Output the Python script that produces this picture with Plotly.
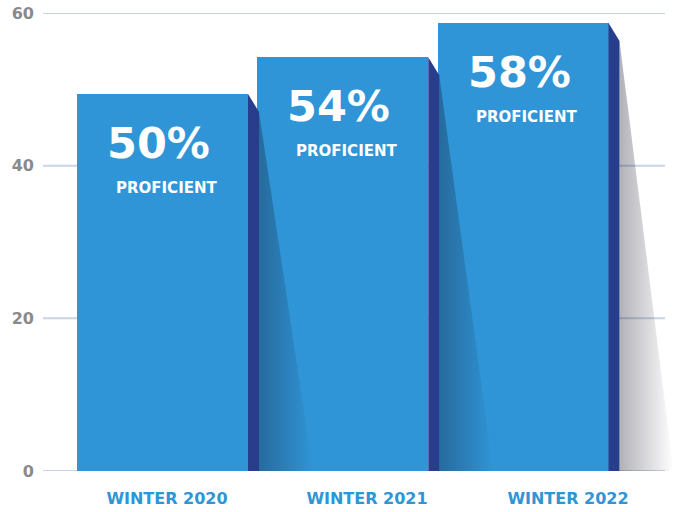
import plotly.graph_objects as go

categories = ["WINTER 2020", "WINTER 2021", "WINTER 2022"]
values = [49.4, 54.2, 58.7]
pct_labels = ["50%", "54%", "58%"]
sub_label = "PROFICIENT"
y_ticks = [0, 20, 40, 60]

# layout constants (pixels)
W, H = 675, 512
ML, MR, MT, MB = 43, 0, 13, 41
GRID_RIGHT_PX = 665
PLOT_W = W - ML - MR
PLOT_H = H - MT - MB
BAR_PX_SPACING = 180.25
BAR_PX_W = 171
FIRST_BAR_CENTER_PX = 162.5 - ML
LABEL_PX = [167, 367, 568]

x_lo = -FIRST_BAR_CENTER_PX / BAR_PX_SPACING
x_hi = x_lo + PLOT_W / BAR_PX_SPACING
y_lo, y_hi = 0, 60
py = PLOT_H / (y_hi - y_lo)  # px per y unit
px = BAR_PX_SPACING          # px per x unit

bar_w = BAR_PX_W / px
side_dx = 11 / px
side_dy = 18 / py
shadow_dx = 54 / px

BLUE = "#2F95D6"
NAVY = "#283E8C"
GRID = "#C7D5E6"
GRAY = "#8A8A8A"

xs = list(range(len(categories)))

fig = go.Figure()
fig.add_trace(go.Bar(x=xs, y=values, width=bar_w, marker=dict(color=BLUE, line=dict(width=0)),
                     hoverinfo="skip", showlegend=False))

for i, v in zip(xs, values):
    xr = i + bar_w / 2
    # shadow
    fig.add_trace(go.Scatter(
        x=[xr + side_dx, xr + side_dx + shadow_dx, xr + side_dx, xr + side_dx],
        y=[v - side_dy, 0, 0, v - side_dy],
        fill="toself", mode="lines", line=dict(width=0),
        fillgradient=dict(type="horizontal",
                          colorscale=[[0, "rgba(20,20,40,0.33)"], [1, "rgba(20,20,40,0)"]]),
        hoverinfo="skip", showlegend=False))
    # side face
    fig.add_trace(go.Scatter(
        x=[xr, xr + side_dx, xr + side_dx, xr, xr],
        y=[v, v - side_dy, 0, 0, v],
        fill="toself", mode="lines", line=dict(width=0), fillcolor=NAVY,
        hoverinfo="skip", showlegend=False))

annotations = []
for i, v, t in zip(xs, values, pct_labels):
    annotations.append(dict(x=i, y=v, xref="x", yref="y", text=t, showarrow=False,
                            xshift=-4, yshift=-49, yanchor="middle",
                            font=dict(family="DejaVu Sans", size=43, color="white", weight="bold")))
    annotations.append(dict(x=i, y=v, xref="x", yref="y", text=sub_label, showarrow=False,
                            xshift=4, yshift=-94, yanchor="middle",
                            font=dict(family="DejaVu Sans", size=15, color="white", weight="bold")))

shapes = []
grid_x1 = (GRID_RIGHT_PX - ML) / PLOT_W
for t in y_ticks:
    shapes.append(dict(type="line", xref="paper", yref="y", x0=0, x1=grid_x1, y0=t, y1=t,
                       line=dict(color=GRID, width=2), layer="below"))

tickvals = [x_lo + (p - ML) / px for p in LABEL_PX]

fig.update_layout(
    width=W, height=H,
    margin=dict(l=ML, r=MR, t=MT, b=MB, pad=0, autoexpand=False),
    paper_bgcolor="white", plot_bgcolor="white",
    showlegend=False,
    bargap=0,
    annotations=annotations,
    shapes=shapes,
    xaxis=dict(range=[x_lo, x_hi], tickvals=tickvals, ticktext=categories,
               showgrid=False, zeroline=False, showline=False, ticks="",
               ticklabelstandoff=16, automargin=False,
               tickfont=dict(family="DejaVu Sans", size=16, color=BLUE, weight="bold"),
               fixedrange=True),
    yaxis=dict(range=[y_lo, y_hi], tickvals=y_ticks, showgrid=False,
               zeroline=False, showline=False, ticks="", ticklabelstandoff=8, automargin=False,
               tickfont=dict(family="DejaVu Sans", size=16, color=GRAY, weight="bold"),
               fixedrange=True),
)

fig.write_html("out.html", config={"displayModeBar": False},
               post_script="document.body.style.margin='0';document.body.style.overflow='hidden';")
